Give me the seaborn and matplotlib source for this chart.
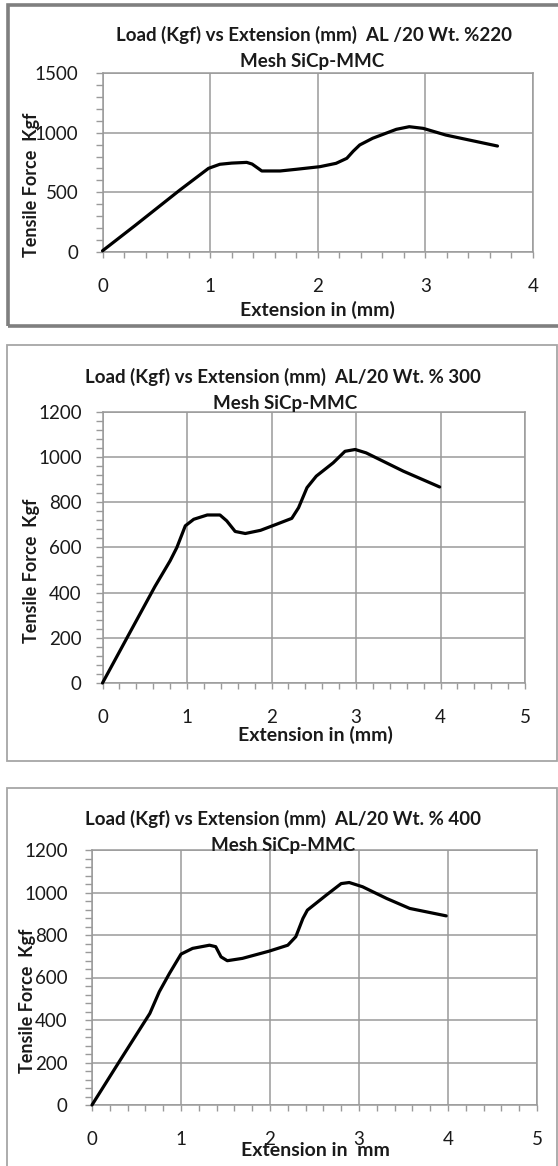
import matplotlib
matplotlib.use("Agg")
import matplotlib.pyplot as plt
import seaborn as sns
import numpy as np
import pandas as pd
from matplotlib.patches import Rectangle
from matplotlib.ticker import MultipleLocator

sns.set_style("white")
plt.rcParams['font.family'] = ['Lato', 'DejaVu Sans']

# ---------------- data ----------------
titles_1 = ["Load (Kgf) vs Extension (mm)  AL /20 Wt. %220",
            "Load (Kgf) vs Extension (mm)  AL/20 Wt. % 300",
            "Load (Kgf) vs Extension (mm)  AL/20 Wt. % 400"]
title_2 = "Mesh SiCp-MMC"
xlabels = ["Extension in (mm)", "Extension in (mm)", "Extension in  mm"]
ylabel = "Tensile Force  Kgf"

ext_220 = [0, 0.3, 0.72, 0.985, 1.09, 1.2, 1.34, 1.39, 1.44, 1.48, 1.65, 1.8,
           2.02, 2.17, 2.27, 2.33, 2.39, 2.51, 2.73, 2.85, 2.98, 3.19, 3.67]
force_220 = [10, 220, 520, 701, 735, 745, 751, 737, 705, 679, 679, 693,
             715, 743, 785, 845, 897, 953, 1028, 1050, 1036, 980, 888]

ext_300 = [0, 0.3, 0.62, 0.80, 0.88, 0.98, 1.08, 1.24, 1.39, 1.47, 1.57, 1.69,
           1.87, 2.06, 2.24, 2.32, 2.42, 2.53, 2.73, 2.87, 2.99, 3.12, 3.56, 3.99]
force_300 = [0, 207, 427, 541, 600, 696, 725, 744, 744, 718, 671, 662,
             676, 703, 729, 776, 865, 916, 975, 1026, 1034, 1019, 938, 868]

ext_400 = [0, 0.3, 0.65, 0.756, 0.87, 1.0, 1.13, 1.32, 1.39, 1.45, 1.52, 1.69,
           1.99, 2.20, 2.29, 2.37, 2.42, 2.63, 2.80, 2.89, 3.04, 3.31, 3.57, 3.98]
force_400 = [0, 200, 431, 533, 619, 710, 737, 752, 745, 697, 679, 690,
             724, 752, 792, 878, 917, 987, 1042, 1047, 1027, 972, 925, 890]

xmax = [4, 5, 5]
ymax = [1500, 1200, 1200]
ymajor = [500, 200, 200]
yminor = [100, 40, 40]

series = [(ext_220, force_220), (ext_300, force_300), (ext_400, force_400)]

# ---------------- layout (pixels) ----------------
W, H = 558, 1166
fig = plt.figure(figsize=(W / 100, H / 100), dpi=100)
fig.patch.set_facecolor("white")

def fx(px):
    return px / W

def fy(py):
    return 1 - py / H

# axes boxes: left, right, top, bottom (px)
boxes = [(102.5, 533, 73, 252), (102.5, 525, 412, 683), (92, 537, 850, 1105)]
title_pos = [((314, 35), (312, 62)), ((283, 377), (285, 403)), ((283, 819), (283, 846))]
xlabel_pos = [(317, 310), (315, 735), (315, 1150)]
ylabel_pos = [(32, 185), (32, 571), (28, 1001)]
ypads = [12.5, 10.0, 12.5]

# panel frames
frames = [((8, 5, 575, 326), "#7f7f7f", 2.6),
          ((7, 345, 557, 761), "#a6a6a6", 1.3),
          ((7, 788, 557, 1200), "#a6a6a6", 1.3)]
for (x0, y0, x1, y1), col, lw in frames:
    fig.add_artist(Rectangle((fx(x0), fy(y1)), fx(x1) - fx(x0), fy(y0) - fy(y1),
                             transform=fig.transFigure, fill=False,
                             edgecolor=col, linewidth=lw, clip_on=False))

grid_col = "#9a9a9a"
txt_col = "#1a1a1a"
for i in range(3):
    l, r, t, b = boxes[i]
    ax = fig.add_axes([fx(l), fy(b), fx(r) - fx(l), fy(t) - fy(b)])
    x, y = series[i]
    df = pd.DataFrame({"ext": x, "force": y})
    sns.lineplot(data=df, x="ext", y="force", ax=ax, color="black", lw=2.3,
                 sort=False, estimator=None, solid_joinstyle="round",
                 solid_capstyle="round", clip_on=False, zorder=5)
    ax.set_xlim(0, xmax[i])
    ax.set_ylim(0, ymax[i])
    ax.xaxis.set_major_locator(MultipleLocator(1))
    ax.xaxis.set_minor_locator(MultipleLocator(0.2))
    ax.yaxis.set_major_locator(MultipleLocator(ymajor[i]))
    ax.yaxis.set_minor_locator(MultipleLocator(yminor[i]))
    ax.grid(True, which="major", color=grid_col, lw=1.1)
    for s in ax.spines.values():
        s.set_color(grid_col)
        s.set_linewidth(1.1)
    ax.tick_params(axis="x", which="both", direction="out", length=4, width=1,
                   color=grid_col, pad=15, labelsize=13.5, labelcolor=txt_col,
                   bottom=True)
    ax.tick_params(axis="y", which="both", direction="out", length=5, width=1,
                   color=grid_col, pad=ypads[i], labelsize=13.5, labelcolor=txt_col,
                   left=True)
    ax.tick_params(axis="x", which="minor", labelbottom=False)
    ax.tick_params(axis="y", which="minor", labelleft=False)
    ax.set_xlabel("")
    ax.set_ylabel("")
    ax.set_facecolor("white")

    (tx1, ty1), (tx2, ty2) = title_pos[i]
    fig.text(fx(tx1), fy(ty1), titles_1[i], ha="center", va="center",
             fontsize=13.5, fontweight="bold", color=txt_col)
    fig.text(fx(tx2), fy(ty2), title_2, ha="center", va="center",
             fontsize=13.5, fontweight="bold", color=txt_col)
    xx, xy = xlabel_pos[i]
    fig.text(fx(xx), fy(xy), xlabels[i], ha="center", va="center",
             fontsize=14, fontweight="bold", color=txt_col)
    yx, yy = ylabel_pos[i]
    fig.text(fx(yx), fy(yy), ylabel, ha="center", va="center", rotation=90,
             fontsize=13, fontweight="bold", color=txt_col)

fig.savefig("out.png", dpi=100, facecolor="white")
